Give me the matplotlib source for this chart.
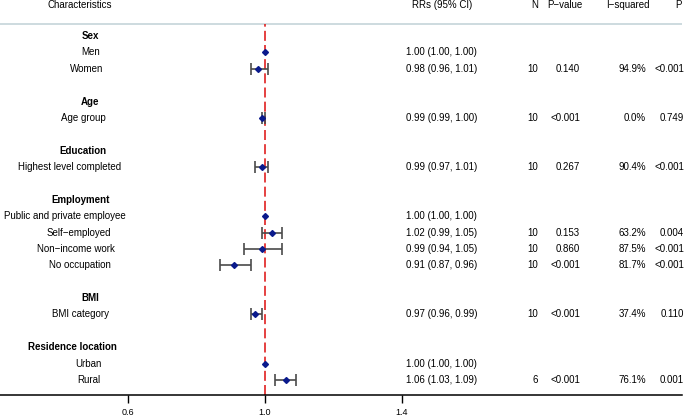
import numpy as np
import matplotlib
matplotlib.use("Agg")
import matplotlib.pyplot as plt
import matplotlib.transforms as mtransforms

plt.rcParams['font.family'] = ['Liberation Sans', 'DejaVu Sans']

# ---------------------------------------------------------------------------
# datos
# ---------------------------------------------------------------------------
labels = ["Sex", "Men", "Women", "",
          "Age", "Age group", "",
          "Education", "Highest level completed", "",
          "Employment", "Public and private employee", "Self\u2212employed",
          "Non\u2212income work", "No occupation", "",
          "BMI", "BMI category", "",
          "Residence location", "Urban", "Rural"]
es_titulo = [1, 0, 0, 0, 1, 0, 0, 1, 0, 0, 1, 0, 0, 0, 0, 0, 1, 0, 0, 1, 0, 0]

nan = np.nan
rr = [nan, 1.00, 0.98, nan, nan, 0.99, nan, nan, 0.99, nan, nan, 1.00, 1.02, 0.99, 0.91,
      nan, nan, 0.97, nan, nan, 1.00, 1.06]
rr_lo = [nan, 1.00, 0.96, nan, nan, 0.99, nan, nan, 0.97, nan, nan, 1.00, 0.99, 0.94, 0.87,
         nan, nan, 0.96, nan, nan, 1.00, 1.03]
rr_hi = [nan, 1.00, 1.01, nan, nan, 1.00, nan, nan, 1.01, nan, nan, 1.00, 1.05, 1.05, 0.96,
         nan, nan, 0.99, nan, nan, 1.00, 1.09]
n_est = ["", "", "10", "", "", "10", "", "", "10", "", "", "", "10", "10", "10",
         "", "", "10", "", "", "", "6"]
p_valor = ["", "", "0.140", "", "", "<0.001", "", "", "0.267", "", "", "", "0.153", "0.860",
           "<0.001", "", "", "<0.001", "", "", "", "<0.001"]
i_cuadrado = ["", "", "94.9%", "", "", "0.0%", "", "", "90.4%", "", "", "", "63.2%", "87.5%",
              "81.7%", "", "", "37.4%", "", "", "", "76.1%"]
p_het = ["", "", "<0.001", "", "", "0.749", "", "", "<0.001", "", "", "", "0.004", "<0.001",
         "<0.001", "", "", "0.110", "", "", "", "0.001"]

encabezados = ["Characteristics", "RRs (95% CI)", "N", "P\u2212value", "I\u2212squared", "P"]
ticks_x = [0.6, 1.0, 1.4]

# ---------------------------------------------------------------------------
# figura
# ---------------------------------------------------------------------------
W, H = 685, 417
fig = plt.figure(figsize=(W / 100, H / 100), dpi=100)
ax = fig.add_axes([0, 22 / H, 682 / W, 1 - 22 / H])

px_por_unidad = 342.5
x_ref = 265
ax.set_xlim(1.0 - x_ref / px_por_unidad, 1.0 + (682 - x_ref) / px_por_unidad)
paso = 16.38
y0 = 36
ax.set_ylim((395 - y0) / paso, (0 - y0) / paso)

filas = np.arange(len(labels))
rr_a = np.array(rr)
lo_a = np.array(rr_lo)
hi_a = np.array(rr_hi)
ok = ~np.isnan(rr_a)
con_ic = ok & (hi_a - lo_a > 0)
err = np.array([rr_a - lo_a, hi_a - rr_a])

ax.axvline(1.0, ymin=0, ymax=1 - 24 / 395, color='#e02020', lw=1.2,
           linestyle=(0, (6, 2.5)), zorder=1)
ax.errorbar(rr_a[con_ic], filas[con_ic], xerr=err[:, con_ic], fmt='none', ecolor='#4a4a4a',
            elinewidth=1.2, capsize=4, capthick=1.2, zorder=2)
ax.plot(rr_a[ok], filas[ok], 'D', color='#0a1a8c', markersize=3.0, zorder=3)

# linea superior
ax.axhline((24 - y0) / paso, color='#c9d8dc', lw=1.3, zorder=0)

# ejes
for s in ['top', 'right', 'left']:
    ax.spines[s].set_visible(False)
ax.spines['bottom'].set_linewidth(1.1)
ax.set_yticks([])
ax.set_xticks(ticks_x)
ax.set_xticklabels([f"{t:.1f}" for t in ticks_x], fontsize=6.5)
ax.tick_params(axis='x', direction='out', length=5.5, width=1.0, pad=4)

tr = mtransforms.blended_transform_factory(fig.transFigure, ax.transData)
fs = 7

# encabezados
y_enc = (5 - y0) / paso
pos_enc = [80, 442, 535, 565, 628, 678]
for txt, px in zip(encabezados, pos_enc):
    ax.text(px / W, y_enc, txt, transform=tr, ha='center', va='center', fontsize=fs)

# etiquetas (ancladas al 75% de su ancho en x=95 px)
textos = []
for i, (lab, tit) in enumerate(zip(labels, es_titulo)):
    if lab:
        t = ax.text(95 / W, i, lab, transform=tr, ha='left', va='center', fontsize=fs,
                    fontweight='bold' if tit else 'normal')
        textos.append(t)

fig.canvas.draw()
rend = fig.canvas.get_renderer()
for t in textos:
    w = t.get_window_extent(rend).width
    x, y = t.get_position()
    t.set_position((x - 0.75 * w / W, y))

# columnas numericas
for i in filas:
    if ok[i]:
        ax.text(406 / W, i, f"{rr[i]:.2f} ({rr_lo[i]:.2f}, {rr_hi[i]:.2f})", transform=tr,
                ha='left', va='center', fontsize=fs)
    for col, px in [(n_est, 538), (p_valor, 580), (i_cuadrado, 646), (p_het, 684)]:
        if col[i]:
            ax.text(px / W, i, col[i], transform=tr, ha='right', va='center', fontsize=fs)

plt.savefig("out.png", dpi=100)
